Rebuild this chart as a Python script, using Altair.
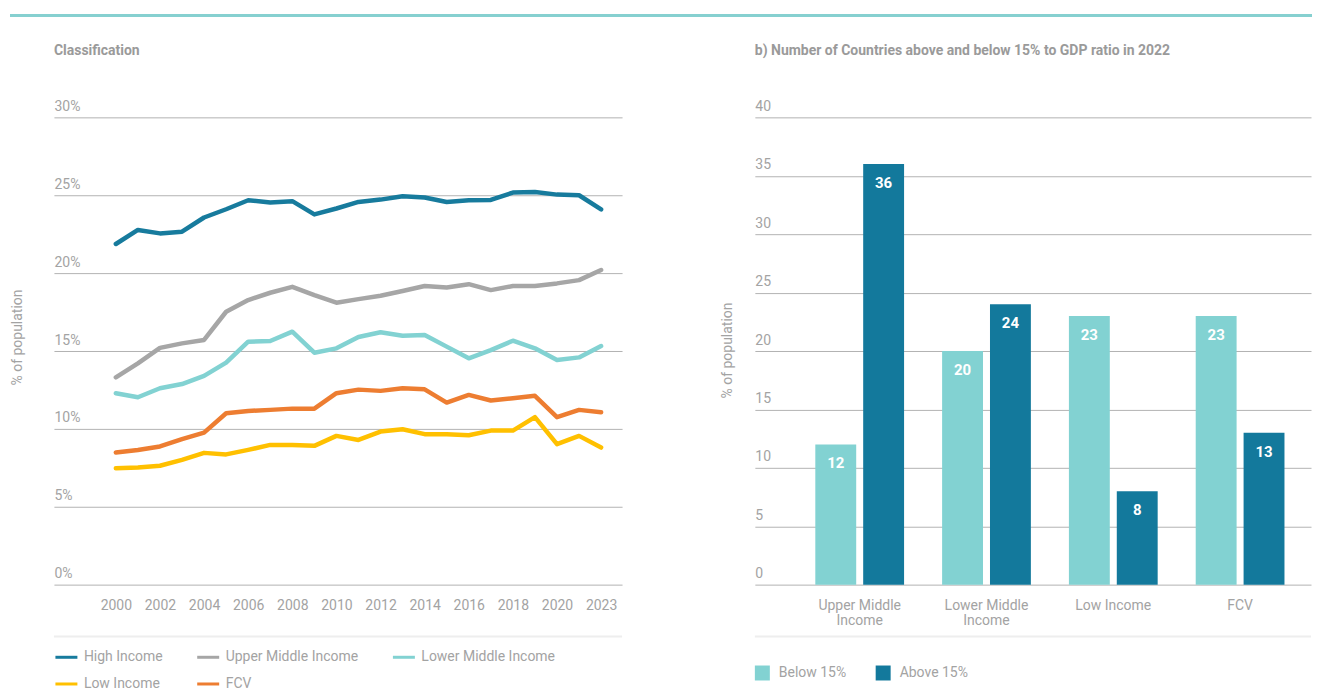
import json
import altair as alt
import pandas as pd

# ---------------- data ----------------
years = ["2000", "2001", "2002", "2003", "2004", "2005", "2006", "2007", "2008", "2009",
         "2010", "2011", "2012", "2013", "2014", "2015", "2016", "2017", "2018", "2019",
         "2020", "2021", "2023"]
year_ticks = ["2000", "2002", "2004", "2006", "2008", "2010", "2012", "2014", "2016",
              "2018", "2020", "2023"]
left_y_ticks = [0, 5, 10, 15, 20, 25, 30]

series_names = ["High Income", "Upper Middle Income", "Lower Middle Income", "Low Income", "FCV"]
series_colors = ["#177b9d", "#a6a6a6", "#82d2d2", "#ffc000", "#ed7d31"]

high_income = [21.87, 22.77, 22.55, 22.66, 23.57, 24.10, 24.68, 24.53, 24.62, 23.77, 24.15, 24.57,
               24.72, 24.94, 24.85, 24.57, 24.68, 24.70, 25.17, 25.21, 25.04, 25.00, 24.09]
upper_middle = [13.31, 14.21, 15.20, 15.49, 15.71, 17.52, 18.27, 18.74, 19.12, 18.59, 18.10, 18.33,
                18.55, 18.85, 19.17, 19.08, 19.29, 18.91, 19.17, 19.17, 19.34, 19.55, 20.20]
lower_middle = [12.29, 12.03, 12.61, 12.88, 13.40, 14.25, 15.60, 15.64, 16.24, 14.89, 15.17, 15.90,
                16.20, 15.98, 16.03, 15.28, 14.53, 15.06, 15.66, 15.17, 14.42, 14.59, 15.32]
low_income = [7.48, 7.52, 7.63, 8.01, 8.46, 8.36, 8.65, 8.97, 8.97, 8.91, 9.55, 9.29,
              9.83, 9.98, 9.66, 9.66, 9.59, 9.89, 9.89, 10.75, 9.02, 9.55, 8.80]
fcv = [8.48, 8.65, 8.87, 9.34, 9.76, 11.00, 11.15, 11.22, 11.30, 11.30, 12.29, 12.52,
       12.44, 12.61, 12.54, 11.69, 12.18, 11.82, 11.97, 12.12, 10.75, 11.22, 11.07]

bar_categories = ["Upper Middle Income", "Lower Middle Income", "Low Income", "FCV"]
bar_cat_lines = [["Upper Middle", "Income"], ["Lower Middle", "Income"], ["Low Income"], ["FCV"]]
bar_groups = ["Below 15%", "Above 15%"]
bar_colors = ["#82d2d2", "#13799c"]
below_15 = [12, 20, 23, 23]
above_15 = [36, 24, 8, 13]
right_y_ticks = [0, 5, 10, 15, 20, 25, 30, 35, 40]

left_title = "Classification"
right_title = "b) Number of Countries above and below 15% to GDP ratio in 2022"
y_title = "% of population"

# ---------------- style ----------------
FONT = "Roboto"
LABEL = "#a3a3a3"
TITLE = "#9a9a9a"
GRID = "#b3b3b3"
SEP = "#eeeeee"
TEAL_TOP = "#86d0d0"
W1, W2, H = 569, 557, 468

rows = []
for name, vals in zip(series_names, [high_income, upper_middle, lower_middle, low_income, fcv]):
    for i, (yr, v) in enumerate(zip(years, vals)):
        rows.append({"year": yr, "pos": i, "series": name, "value": v})
df_lines = pd.DataFrame(rows)

tick_pos = [years.index(t) for t in year_ticks]
year_expr = f"{json.dumps(years)}[round(datum.value)]"

df_bars = pd.DataFrame({
    "category": bar_categories + bar_categories,
    "group": [bar_groups[0]] * len(bar_categories) + [bar_groups[1]] * len(bar_categories),
    "value": below_15 + above_15,
})

one = pd.DataFrame({"t": [0]})


def y_axis(values, expr, title_x, title_y):
    return alt.Axis(values=values, labelExpr=expr, labelAlign="left", labelBaseline="bottom",
                    labelPadding=0, tickSize=0, ticks=False, domain=False, grid=True,
                    gridColor=GRID, gridWidth=1, labelOffset=-4, labelFontSize=14,
                    labelColor=LABEL, labelFont=FONT, title=y_title, titleColor=LABEL,
                    titleFont=FONT, titleFontWeight="normal", titleFontSize=14,
                    titleX=title_x, titleY=title_y, titleAngle=270,
                    titleAlign="center", titleBaseline="middle")


# ---------------- left chart ----------------
lines = alt.Chart(df_lines).mark_line(strokeWidth=4.5, strokeCap="round", strokeJoin="round").encode(
    x=alt.X("pos:Q", scale=alt.Scale(domain=[-2.807, 22.95], nice=False, zero=False),
            axis=alt.Axis(values=tick_pos, labelExpr=year_expr, labelAngle=0, domain=False,
                          ticks=False, tickSize=0, grid=False, labelPadding=14, title=None,
                          labelFontSize=14, labelColor=LABEL, labelFont=FONT, labelFlush=False)),
    y=alt.Y("value:Q", scale=alt.Scale(domain=[0, 30], nice=False),
            axis=y_axis(left_y_ticks, "datum.value + '%'", -36, 220)),
    color=alt.Color("series:N", sort=series_names,
                    scale=alt.Scale(domain=series_names, range=series_colors),
                    legend=alt.Legend(orient="none", legendX=0, legendY=528, columns=3,
                                      direction="horizontal", title=None,
                                      symbolType="stroke", symbolStrokeWidth=3, symbolSize=484,
                                      labelFontSize=14, labelColor=LABEL, labelFont=FONT,
                                      labelOffset=5, columnPadding=28, rowPadding=7)),
    detail="series:N",
)

top_rule = alt.Chart(one).mark_rule(color=TEAL_TOP, strokeWidth=3).encode(
    x=alt.value(-44), x2=alt.value(1260), y=alt.value(-102))
sep_left = alt.Chart(one).mark_rule(color=SEP, strokeWidth=2).encode(
    x=alt.value(0), x2=alt.value(W1), y=alt.value(520))
title_left = alt.Chart(pd.DataFrame({"t": [left_title]})).mark_text(
    align="left", baseline="middle", font=FONT, fontSize=14, fontWeight="bold", color=TITLE
).encode(text="t:N", x=alt.value(0), y=alt.value(-66))

left = alt.layer(lines, top_rule, sep_left, title_left).properties(width=W1, height=H)

# ---------------- right chart ----------------
label_expr = f"{json.dumps(bar_cat_lines)}[indexof({json.dumps(bar_categories)}, datum.label)]"
x_bar = alt.X("category:N", sort=bar_categories,
              scale=alt.Scale(paddingInner=0.3, paddingOuter=0.343, align=0.695),
              axis=alt.Axis(labelExpr=label_expr, labelAngle=0, domain=False, ticks=False,
                            tickSize=0, grid=False, labelPadding=14, title=None, labelFontSize=14,
                            labelColor=LABEL, labelFont=FONT, labelLineHeight=15))
xo_bar = alt.XOffset("group:N", sort=bar_groups, scale=alt.Scale(paddingInner=0.146, paddingOuter=0))
y_bar = alt.Y("value:Q", scale=alt.Scale(domain=[0, 40], nice=False),
              axis=y_axis(right_y_ticks, "datum.label", -27, 233))

bars = alt.Chart(df_bars).mark_bar().encode(
    x=x_bar, xOffset=xo_bar, y=y_bar,
    color=alt.Color("group:N", sort=bar_groups,
                    scale=alt.Scale(domain=bar_groups, range=bar_colors),
                    legend=alt.Legend(orient="none", legendX=0, legendY=549, direction="horizontal",
                                      title=None, symbolType="square", symbolSize=225,
                                      symbolStrokeWidth=0, labelFontSize=14, labelColor=LABEL,
                                      labelFont=FONT, labelOffset=9, columnPadding=29)),
)
bar_text = alt.Chart(df_bars).mark_text(
    baseline="middle", dy=19, color="white", font=FONT, fontWeight="bold", fontSize=15
).encode(x=x_bar, xOffset=xo_bar, y=y_bar, text="value:Q")

sep_right = alt.Chart(one).mark_rule(color=SEP, strokeWidth=2).encode(
    x=alt.value(0), x2=alt.value(W2), y=alt.value(520))
title_right = alt.Chart(pd.DataFrame({"t": [right_title]})).mark_text(
    align="left", baseline="middle", font=FONT, fontSize=14, fontWeight="bold", color=TITLE
).encode(text="t:N", x=alt.value(0), y=alt.value(-66))

right = alt.layer(bars, bar_text, sep_right, title_right).properties(width=W2, height=H)

chart = alt.hconcat(left, right, spacing=133, bounds="flush").resolve_scale(
    color="independent", x="independent", y="independent"
).resolve_legend(color="independent").properties(
    padding={"left": 0, "top": 5, "right": 0, "bottom": 0}
).configure(font=FONT).configure_view(stroke=None)

chart.save("out.html", embed_options={"renderer": "svg", "actions": False})
